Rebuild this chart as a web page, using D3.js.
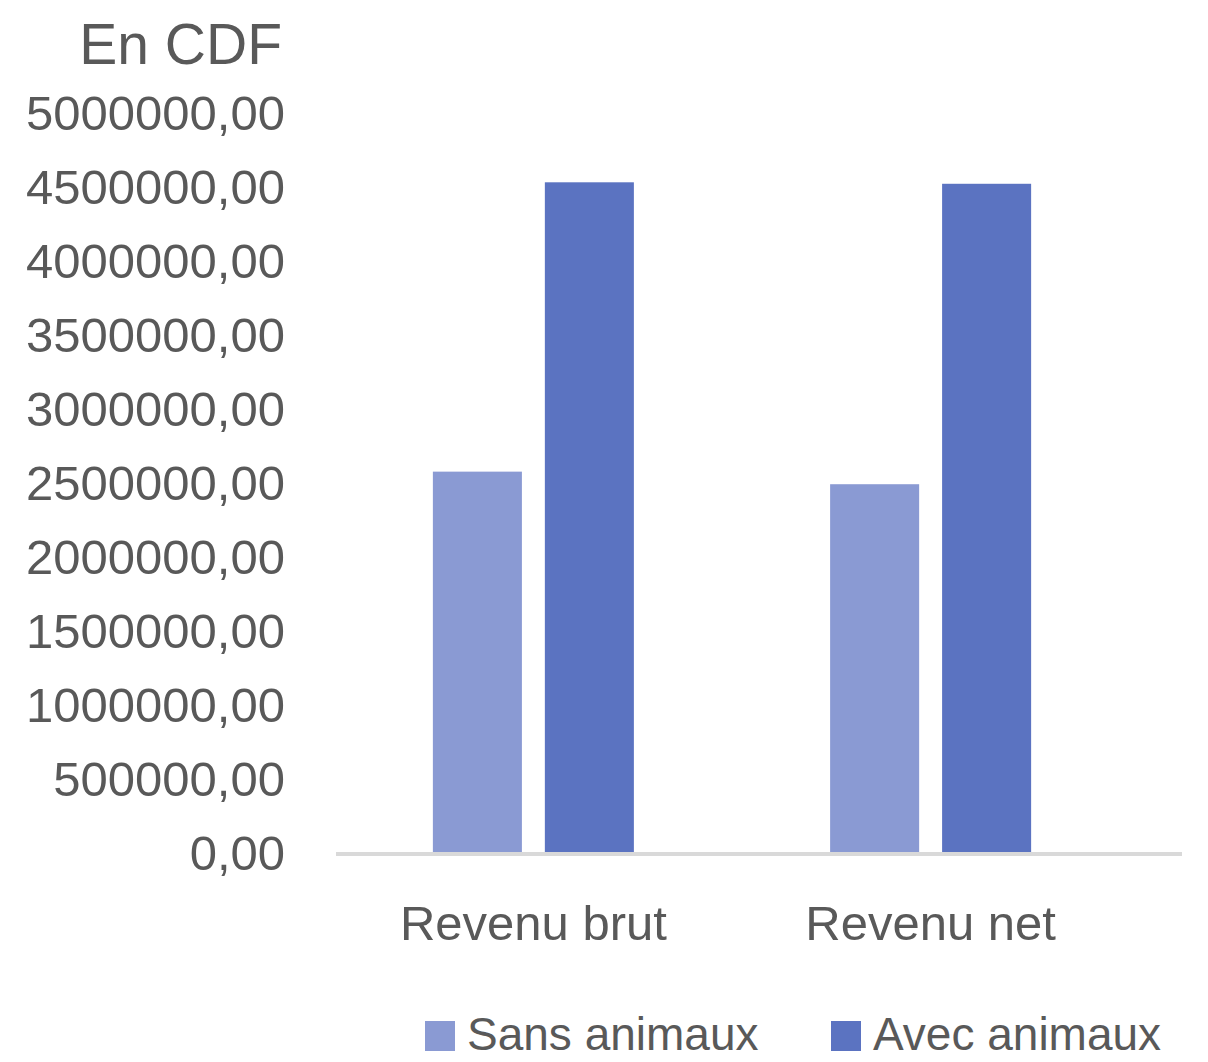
<!DOCTYPE html>
<meta charset="utf-8">
<style>
body { margin: 0; background: #fff; }
text { font-family: "Liberation Sans", Arial, sans-serif; fill: #595959; }
</style>
<svg width="1208" height="1062"></svg>
<script src="https://d3js.org/d3.v7.min.js"></script>
<script>

var categories = ["Revenu brut", "Revenu net"];
var series = ["Sans animaux", "Avec animaux"];
var sansAnimaux = [2570000, 2485000];
var avecAnimaux = [4525000, 4515000];
var yTicks = [0, 500000, 1000000, 1500000, 2000000, 2500000, 3000000, 3500000, 4000000, 4500000, 5000000];
var colors = ["#8a9ad3", "#5b73c1"];

var svg = d3.select("svg");

var x0 = d3.scaleBand()
    .domain(categories)
    .range([334.75, 1129.25])
    .paddingInner(0.494)
    .paddingOuter(0.247);

var x1 = d3.scaleBand()
    .domain(series)
    .range([0, x0.bandwidth()])
    .paddingInner(0.205)
    .paddingOuter(0);

var y = d3.scaleLinear()
    .domain([0, 5000000])
    .range([852, 112]);

var color = d3.scaleOrdinal().domain(series).range(colors);

// title of the value axis
svg.append("text")
    .attr("x", 282)
    .attr("y", 64)
    .attr("text-anchor", "end")
    .style("font-size", "57px")
    .text("En CDF");

// y axis labels (no line, no ticks)
var yAxis = d3.axisLeft(y)
    .tickValues(yTicks)
    .tickSize(0)
    .tickPadding(0)
    .tickFormat(function(d) { return d3.format(".2f")(d).replace(".", ","); });

var gy = svg.append("g")
    .attr("transform", "translate(285,0)")
    .call(yAxis);
gy.select(".domain").remove();
gy.selectAll("text")
    .attr("fill", "#595959")
    .style("font-family", "'Liberation Sans', Arial, sans-serif")
    .style("font-size", "49px")
    .attr("dy", "0.36em");

// bars
var rows = categories.map(function(c, i) {
  return { cat: c, values: [
    { key: series[0], value: sansAnimaux[i] },
    { key: series[1], value: avecAnimaux[i] }
  ]};
});

svg.append("g")
  .selectAll("g")
  .data(rows)
  .enter().append("g")
    .attr("transform", function(d) { return "translate(" + x0(d.cat) + ",0)"; })
  .selectAll("rect")
  .data(function(d) { return d.values; })
  .enter().append("rect")
    .attr("x", function(d) { return x1(d.key); })
    .attr("y", function(d) { return y(d.value); })
    .attr("width", x1.bandwidth())
    .attr("height", function(d) { return y(0) - y(d.value); })
    .attr("fill", function(d) { return color(d.key); });

// baseline
svg.append("line")
    .attr("x1", 336)
    .attr("x2", 1182)
    .attr("y1", y(0) + 2)
    .attr("y2", y(0) + 2)
    .attr("stroke", "#d9d9d9")
    .attr("stroke-width", 4);

// category labels
svg.append("g")
  .selectAll("text")
  .data(categories)
  .enter().append("text")
    .attr("x", function(d) { return x0(d) + x0.bandwidth() / 2; })
    .attr("y", 940)
    .attr("text-anchor", "middle")
    .style("font-size", "49px")
    .text(function(d) { return d; });

// legend
var legendX = [425, 831];
var legend = svg.append("g")
  .selectAll("g")
  .data(series)
  .enter().append("g")
    .attr("transform", function(d, i) { return "translate(" + legendX[i] + ",0)"; });

legend.append("rect")
    .attr("x", 0)
    .attr("y", 1021)
    .attr("width", 30)
    .attr("height", 30)
    .attr("fill", function(d) { return color(d); });

legend.append("text")
    .attr("x", 42)
    .attr("y", 1050)
    .style("font-size", "46px")
    .text(function(d) { return d; });

</script>
